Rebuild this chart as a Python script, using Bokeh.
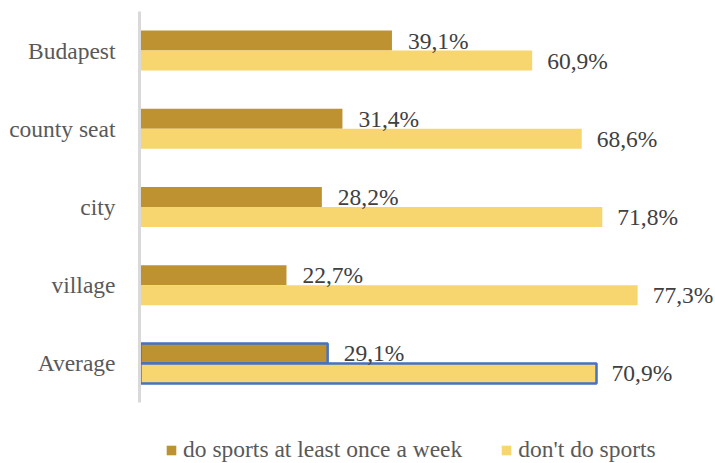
from bokeh.plotting import figure
from bokeh.models import ColumnDataSource, Range1d, Legend, LegendItem, FixedTicker
from bokeh.core.properties import value
from bokeh.embed import file_html
from bokeh.resources import INLINE

categories = ["Budapest", "county seat", "city", "village", "Average"]
do_sports = [39.1, 31.4, 28.2, 22.7, 29.1]
dont_sports = [60.9, 68.6, 71.8, 77.3, 70.9]
series_names = ["do sports at least once a week", "don't do sports"]
outlined = [0, 0, 0, 0, 1]

DARK = "#BE9230"
LIGHT = "#F7D56F"
BLUE = "#4472C4"
FONT = "Liberation Serif"
FS = "23.5px"

def fmt(v):
    return ("%.1f" % v).replace(".", ",") + "%"

n = len(categories)
pos = [n - 1 - i for i in range(n)]   # first category at top
off = 0.128
h = 0.256

src = ColumnDataSource(dict(
    ya=[y + off for y in pos],
    yb=[y - off for y in pos],
    a=do_sports,
    b=dont_sports,
    la=[fmt(v) for v in do_sports],
    lb=[fmt(v) for v in dont_sports],
    oa=outlined,
))

p = figure(width=715, height=463, output_backend="svg", toolbar_location=None,
           y_range=Range1d(-1.28, n - 0.5),
           x_range=Range1d(-0.15, 89.4),
           min_border_left=139, min_border_top=11, min_border_bottom=0, min_border_right=0)
p.outline_line_color = None
p.grid.visible = False
p.xaxis.visible = False

r1 = p.hbar(y="ya", left=0, right="a", height=h, source=src,
            fill_color=DARK, line_color=BLUE, line_alpha="oa", line_width=2.5)
r2 = p.hbar(y="yb", left=0, right="b", height=h, source=src,
            fill_color=LIGHT, line_color=BLUE, line_alpha="oa", line_width=2.5)

p.text(x="a", y="ya", text="la", source=src, x_offset=16,
       text_baseline="middle", text_font=value(FONT), text_font_size=FS, text_color="#404040")
p.text(x="b", y="yb", text="lb", source=src, x_offset=15,
       text_baseline="middle", text_font=value(FONT), text_font_size=FS, text_color="#404040")

ax = p.yaxis[0]
ax.ticker = FixedTicker(ticks=pos)
ax.major_label_overrides = {y: c for y, c in zip(pos, categories)}
ax.bounds = (-0.5, n - 0.5)
ax.axis_line_color = "#D9D9D9"
ax.axis_line_width = 3
ax.major_tick_line_color = None
ax.minor_tick_line_color = None
ax.major_label_standoff = 18
ax.major_label_text_font = FONT
ax.major_label_text_font_size = FS
ax.major_label_text_color = "#595959"

legend = Legend(items=[LegendItem(label=series_names[0], renderers=[r1]),
                       LegendItem(label=series_names[1], renderers=[r2])],
                orientation="horizontal", location=(26, 0), padding=0, margin=0,
                border_line_color=None, background_fill_alpha=0,
                glyph_width=12, glyph_height=12, label_standoff=6, spacing=38,
                label_text_font=FONT, label_text_font_size=FS, label_text_color="#595959",
                label_height=24)
p.add_layout(legend, "center")

open("out.html", "w").write(file_html(p, INLINE))
